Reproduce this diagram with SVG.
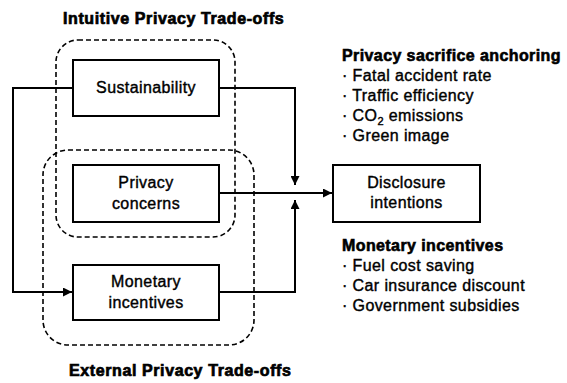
<svg xmlns="http://www.w3.org/2000/svg" width="567" height="383" viewBox="0 0 567 383">
  <defs>
    <marker id="arrow" viewBox="0 0 10 10" refX="10" refY="5" markerWidth="10" markerHeight="9" markerUnits="userSpaceOnUse" orient="auto">
      <path d="M0,0 L10,5 L0,10 z" fill="#000"/>
    </marker>
    <style>
      text { font-family: "Liberation Sans", Arial, sans-serif; fill: #000; stroke: #000; font-size: 16px; letter-spacing: 0.4px; }
      .title { font-weight: bold; stroke-width: 0.7; letter-spacing: 0.6px; }
      .head { font-weight: bold; stroke-width: 0.6; }
      .item { stroke-width: 0.4; }
      .label { text-anchor: middle; stroke-width: 0.4; }
      .box { fill: #fff; stroke: #000; stroke-width: 2; }
      .group { fill: none; stroke: #000; stroke-width: 1.6; stroke-dasharray: 5 3; }
      .conn { fill: none; stroke: #000; stroke-width: 2; }
    </style>
  </defs>

  <rect width="567" height="383" fill="#fff"/>

  <!-- group outlines -->
  <g id="intuitive-group">
    <rect class="group" x="56" y="40" width="179" height="197" rx="22" ry="22"/>
    <text class="title" x="63" y="24">Intuitive Privacy Trade-offs</text>
  </g>
  <g id="external-group">
    <rect class="group" x="43" y="150" width="211" height="195" rx="25" ry="25"/>
    <text class="title" x="69" y="376">External Privacy Trade-offs</text>
  </g>

  <!-- connectors -->
  <g id="connectors">
    <polyline class="conn" points="73,88 13,88 13,292 72,292" marker-end="url(#arrow)"/>
    <polyline class="conn" points="219,88 295,88 295,185" marker-end="url(#arrow)"/>
    <polyline class="conn" points="219,292 295,292 295,200" marker-end="url(#arrow)"/>
    <line class="conn" x1="219" y1="193" x2="332" y2="193" marker-end="url(#arrow)"/>
  </g>

  <!-- nodes -->
  <g id="sustainability">
    <rect class="box" x="73" y="60" width="146" height="56"/>
    <text class="label" x="146" y="93">Sustainability</text>
  </g>
  <g id="privacy-concerns">
    <rect class="box" x="73" y="165" width="146" height="57"/>
    <text class="label" x="146" y="188">Privacy</text>
    <text class="label" x="146" y="209">concerns</text>
  </g>
  <g id="monetary-incentives">
    <rect class="box" x="73" y="265" width="146" height="55"/>
    <text class="label" x="146" y="287">Monetary</text>
    <text class="label" x="146" y="308">incentives</text>
  </g>
  <g id="disclosure-intentions">
    <rect class="box" x="333" y="165" width="147" height="57"/>
    <text class="label" x="406.5" y="188">Disclosure</text>
    <text class="label" x="406.5" y="208">intentions</text>
  </g>

  <!-- annotation lists -->
  <g id="anchoring-list">
    <text class="head" x="342" y="61">Privacy sacrifice anchoring</text>
    <text class="item" x="342" y="81">· Fatal accident rate</text>
    <text class="item" x="342" y="101">· Traffic efficiency</text>
    <text class="item" x="342" y="121">· CO<tspan font-size="11" dy="4">2</tspan><tspan dy="-4"> emissions</tspan></text>
    <text class="item" x="342" y="141">· Green image</text>
  </g>
  <g id="incentives-list">
    <text class="head" x="342" y="251">Monetary incentives</text>
    <text class="item" x="342" y="271">· Fuel cost saving</text>
    <text class="item" x="342" y="291">· Car insurance discount</text>
    <text class="item" x="342" y="311">· Government subsidies</text>
  </g>
</svg>
